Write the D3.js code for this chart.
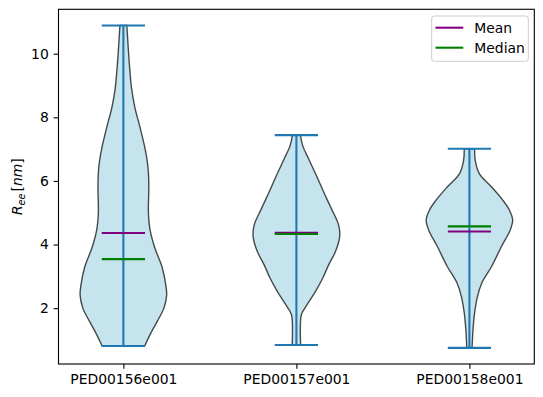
<!DOCTYPE html>
<html>
<head>
<meta charset="utf-8">
<script src="https://cdn.jsdelivr.net/npm/d3@7"></script>
<style>
  body { margin: 0; background: #fff; }
  svg text { font-family: "DejaVu Sans", sans-serif; }
</style>
</head>
<body>
<div id="chart"></div>
<script>
// categories and summary values
var categories = ["PED00156e001", "PED00157e001", "PED00158e001"];
var mins    = [0.81, 0.84, 0.75];
var maxes   = [10.89, 7.44, 7.01];
var means   = [4.36, 4.37, 4.41];
var medians = [3.54, 4.33, 4.57];

// kde profiles (level, relative density)
var levels1 = [0.81, 1.2, 1.6, 2.0, 2.4, 2.7, 3.3, 3.9, 4.45, 5.0, 5.8, 6.25, 6.65, 7.05, 7.7, 8.3, 8.9, 9.5, 10.0, 10.89];
var dens1   = [21.5, 27.5, 34.5, 41, 43.7, 43, 39, 31.7, 27, 25.3, 25.7, 25.3, 24, 21.7, 16.7, 11.7, 8.3, 6.5, 5.3, 3.5];
var levels2 = [0.84, 1.07, 1.48, 1.8, 2.11, 2.52, 2.94, 3.36, 3.77, 4.24, 4.61, 5.13, 5.65, 6.17, 6.69, 7.11, 7.44];
var dens2   = [4.3, 4, 4, 5, 10.7, 19, 26.3, 32.3, 39, 43.3, 42.3, 35, 27.3, 20, 12.3, 6.3, 4];
var levels3 = [0.75, 1.33, 1.85, 2.37, 2.79, 3.31, 3.93, 4.45, 4.77, 5.08, 5.39, 5.81, 6.22, 6.64, 7.01];
var dens3   = [2.7, 3.7, 5.3, 8.3, 12.7, 22.7, 32.7, 41.7, 44.3, 41, 34.3, 22.7, 10.3, 6, 5.3];

var yTicks = [2, 4, 6, 8, 10];
var legendItems = [{name: "Mean", color: "purple"}, {name: "Median", color: "green"}];

var profiles = [
  {levels: levels1, dens: dens1},
  {levels: levels2, dens: dens2},
  {levels: levels3, dens: dens3}
];

var width = 543, height = 397;
var margin = {top: 9.3, right: 8.7, bottom: 33, left: 58.5};
var fs = 13.9;
var halfW = 0.25; // violin widths 0.5

var svg = d3.select('#chart').append('svg')
  .attr('width', width)
  .attr('height', height);

// autoscale like matplotlib: body extents plus 5% margins
var xlo = 1 - halfW, xhi = categories.length + halfW;
var xpad = (xhi - xlo) * 0.05;
var x = d3.scaleLinear()
  .domain([xlo - xpad, xhi + xpad])
  .range([margin.left, width - margin.right]);

var ymin = d3.min(mins), ymax = d3.max(maxes);
var ypad = (ymax - ymin) * 0.05;
var y = d3.scaleLinear()
  .domain([ymin - ypad, ymax + ypad])
  .range([height - margin.bottom, margin.top]);

// violin bodies
profiles.forEach(function(p, i) {
  var pos = i + 1;
  var dmax = d3.max(p.dens);
  var pts = p.levels.map(function(v, j) { return {v: v, w: p.dens[j] / dmax * halfW}; });
  var area = d3.area()
    .y(function(d) { return y(d.v); })
    .x0(function(d) { return x(pos - d.w); })
    .x1(function(d) { return x(pos + d.w); })
    .curve(d3.curveCatmullRom.alpha(0.5));
  svg.append('path')
    .attr('d', area(pts))
    .attr('fill', '#add8e6')
    .attr('fill-opacity', 0.7)
    .attr('stroke', '#000')
    .attr('stroke-opacity', 0.7)
    .attr('stroke-width', 1.39);
});

var lw = 2.08, capW = halfW * 0.5;

function hline(pos, v, color) {
  svg.append('line')
    .attr('x1', x(pos - capW)).attr('x2', x(pos + capW))
    .attr('y1', y(v)).attr('y2', y(v))
    .attr('stroke', color).attr('stroke-width', lw);
}

categories.forEach(function(c, i) {
  var pos = i + 1;
  hline(pos, maxes[i], '#1f77b4');
  hline(pos, mins[i], '#1f77b4');
  svg.append('line')
    .attr('x1', x(pos)).attr('x2', x(pos))
    .attr('y1', y(mins[i])).attr('y2', y(maxes[i]))
    .attr('stroke', '#1f77b4').attr('stroke-width', lw);
  hline(pos, means[i], 'purple');
  hline(pos, medians[i], 'green');
});

// axes
var xAxis = d3.axisBottom(x)
  .tickValues(d3.range(1, categories.length + 1))
  .tickFormat(function(d) { return categories[d - 1]; })
  .tickSizeInner(4.86).tickSizeOuter(0).tickPadding(4.86);
var yAxis = d3.axisLeft(y)
  .tickValues(yTicks)
  .tickSizeInner(4.86).tickSizeOuter(0).tickPadding(4.86);

var gx = svg.append('g')
  .attr('transform', 'translate(0,' + (height - margin.bottom) + ')')
  .call(xAxis);
var gy = svg.append('g')
  .attr('transform', 'translate(' + margin.left + ',0)')
  .call(yAxis);

[gx, gy].forEach(function(g) {
  g.select('.domain').remove();
  g.selectAll('line').attr('stroke', '#000').attr('stroke-width', 1.11);
  g.selectAll('text').attr('fill', '#000').style('font-size', fs + 'px');
});

// frame
svg.append('rect')
  .attr('x', margin.left).attr('y', margin.top)
  .attr('width', width - margin.left - margin.right)
  .attr('height', height - margin.top - margin.bottom)
  .attr('fill', 'none').attr('stroke', '#000').attr('stroke-width', 1.11);

// y label
var yl = svg.append('text')
  .attr('transform', 'translate(22,' + (margin.top + (height - margin.top - margin.bottom) / 2) + ') rotate(-90)')
  .attr('text-anchor', 'middle')
  .style('font-size', fs + 'px');
yl.append('tspan').style('font-style', 'italic').text('R');
yl.append('tspan').style('font-style', 'italic').style('font-size', (fs * 0.7) + 'px').attr('dy', 3).text('ee');
yl.append('tspan').attr('dy', -3).attr('dx', 2).text('[');
yl.append('tspan').style('font-style', 'italic').text('nm');
yl.append('tspan').text(']');

// legend
var lg = svg.append('g');
lg.append('rect')
  .attr('x', 431.7).attr('y', 16)
  .attr('width', 96.6).attr('height', 45.3)
  .attr('rx', 2.8)
  .attr('fill', '#fff').attr('fill-opacity', 0.8)
  .attr('stroke', '#ccc').attr('stroke-width', 1);
var item = lg.selectAll('.item')
  .data(legendItems)
  .enter().append('g')
  .attr('transform', function(d, i) { return 'translate(435.5,' + (27.7 + i * 20) + ')'; });
item.append('line')
  .attr('x1', 0).attr('x2', 27.8)
  .attr('stroke', function(d) { return d.color; })
  .attr('stroke-width', lw);
item.append('text')
  .attr('x', 38.8).attr('y', 5)
  .style('font-size', fs + 'px')
  .text(function(d) { return d.name; });
</script>
</body>
</html>
